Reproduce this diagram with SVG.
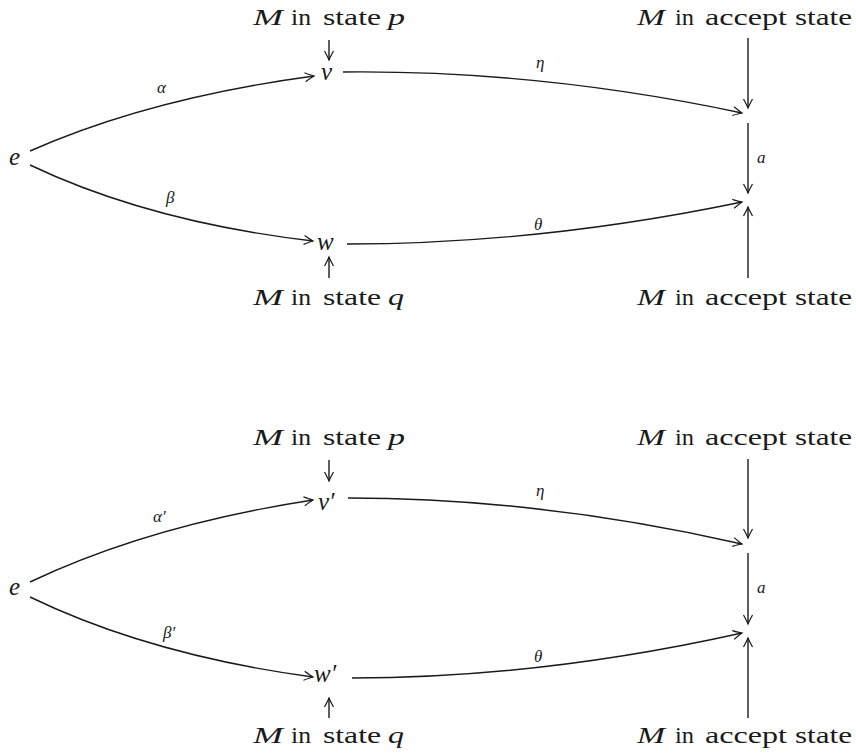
<svg xmlns="http://www.w3.org/2000/svg" width="856" height="755" viewBox="0 0 856 755">
<style>
text{font-family:'Liberation Serif','DejaVu Serif',serif;fill:#1a1a1a}
.lbl{font-size:24px}
.it{font-style:italic}
.sm{font-size:17px;font-style:italic}
.node{font-size:25px;font-style:italic}
.edge{fill:none;stroke:#1a1a1a;stroke-width:1.4;marker-end:url(#ah)}
</style>
<defs>
<marker id="ah" markerUnits="userSpaceOnUse" markerWidth="14" markerHeight="12" viewBox="-10 -6 12 12" refX="0" refY="0" orient="auto">
<path d="M-9,-4.5 Q-3,-1.2 0,0 Q-3,1.2 -9,4.5" fill="none" stroke="#1a1a1a" stroke-width="1.2"/>
</marker>
</defs>
<g id="top">
<g id="p1"><text class="lbl" y="25"><tspan class="it" x="253" textLength="30" lengthAdjust="spacingAndGlyphs">M</tspan><tspan x="291" textLength="20" lengthAdjust="spacingAndGlyphs">in</tspan><tspan x="323" textLength="58" lengthAdjust="spacingAndGlyphs">state</tspan><tspan class="it" x="388" textLength="17" lengthAdjust="spacingAndGlyphs">p</tspan></text></g>
<g id="q1"><text class="lbl" y="305"><tspan class="it" x="253" textLength="30" lengthAdjust="spacingAndGlyphs">M</tspan><tspan x="291" textLength="20" lengthAdjust="spacingAndGlyphs">in</tspan><tspan x="323" textLength="58" lengthAdjust="spacingAndGlyphs">state</tspan><tspan class="it" x="388" textLength="16" lengthAdjust="spacingAndGlyphs">q</tspan></text></g>
<g id="acc1a"><text class="lbl" y="25"><tspan class="it" x="637" textLength="28" lengthAdjust="spacingAndGlyphs">M</tspan><tspan x="675" textLength="19" lengthAdjust="spacingAndGlyphs">in</tspan><tspan x="705" textLength="82" lengthAdjust="spacingAndGlyphs">accept</tspan><tspan x="795" textLength="57" lengthAdjust="spacingAndGlyphs">state</tspan></text></g>
<g id="acc1b"><text class="lbl" y="305"><tspan class="it" x="637" textLength="28" lengthAdjust="spacingAndGlyphs">M</tspan><tspan x="675" textLength="19" lengthAdjust="spacingAndGlyphs">in</tspan><tspan x="705" textLength="82" lengthAdjust="spacingAndGlyphs">accept</tspan><tspan x="795" textLength="57" lengthAdjust="spacingAndGlyphs">state</tspan></text></g>
<g id="e1"><text class="node" x="9" y="165">e</text></g>
<g id="v1"><text class="node" x="321" y="80">v</text></g>
<g id="w1"><text class="node" x="317" y="250">w</text></g>
</g>
<g id="bottom">
<g id="p2"><text class="lbl" y="445"><tspan class="it" x="253" textLength="30" lengthAdjust="spacingAndGlyphs">M</tspan><tspan x="291" textLength="20" lengthAdjust="spacingAndGlyphs">in</tspan><tspan x="323" textLength="58" lengthAdjust="spacingAndGlyphs">state</tspan><tspan class="it" x="388" textLength="17" lengthAdjust="spacingAndGlyphs">p</tspan></text></g>
<g id="q2"><text class="lbl" y="743"><tspan class="it" x="253" textLength="30" lengthAdjust="spacingAndGlyphs">M</tspan><tspan x="291" textLength="20" lengthAdjust="spacingAndGlyphs">in</tspan><tspan x="323" textLength="58" lengthAdjust="spacingAndGlyphs">state</tspan><tspan class="it" x="388" textLength="16" lengthAdjust="spacingAndGlyphs">q</tspan></text></g>
<g id="acc2a"><text class="lbl" y="445"><tspan class="it" x="637" textLength="28" lengthAdjust="spacingAndGlyphs">M</tspan><tspan x="675" textLength="19" lengthAdjust="spacingAndGlyphs">in</tspan><tspan x="705" textLength="82" lengthAdjust="spacingAndGlyphs">accept</tspan><tspan x="795" textLength="57" lengthAdjust="spacingAndGlyphs">state</tspan></text></g>
<g id="acc2b"><text class="lbl" y="743"><tspan class="it" x="637" textLength="28" lengthAdjust="spacingAndGlyphs">M</tspan><tspan x="675" textLength="19" lengthAdjust="spacingAndGlyphs">in</tspan><tspan x="705" textLength="82" lengthAdjust="spacingAndGlyphs">accept</tspan><tspan x="795" textLength="57" lengthAdjust="spacingAndGlyphs">state</tspan></text></g>
<g id="e2"><text class="node" x="9" y="595">e</text></g>
<g id="v2"><text class="node" x="318" y="510">v′</text></g>
<g id="w2"><text class="node" x="314" y="682">w′</text></g>
</g>
<g id="connectors">
<path class="edge" d="M30,151 Q150,98 314,76"/>
<path class="edge" d="M30,165 Q150,222 313,241"/>
<path class="edge" d="M343,72 Q540,70 742,113"/>
<path class="edge" d="M347,244 Q540,244 742,202"/>
<path class="edge" d="M329,40 L329,60"/>
<path class="edge" d="M329,278 L329,257"/>
<path class="edge" d="M748,38 L748,108"/>
<path class="edge" d="M748,123 L748,193"/>
<path class="edge" d="M748,278 L748,207"/>
<path class="edge" d="M30,582 Q150,525 313,500"/>
<path class="edge" d="M30,597 Q150,655 313,677"/>
<path class="edge" d="M348,498 Q540,498 742,544"/>
<path class="edge" d="M352,678 Q540,678 742,633"/>
<path class="edge" d="M329,460 L329,481"/>
<path class="edge" d="M329,718 L329,698"/>
<path class="edge" d="M748,459 L748,538"/>
<path class="edge" d="M748,553 L748,624"/>
<path class="edge" d="M748,718 L748,638"/>
<text class="sm" x="157" y="93">α</text>
<text class="sm" x="166" y="203">β</text>
<text class="sm" x="536" y="68">η</text>
<text class="sm" x="534" y="230">θ</text>
<text class="sm" x="757" y="163">a</text>
<text class="sm" x="153" y="522">α′</text>
<text class="sm" x="163" y="638">β′</text>
<text class="sm" x="536" y="496">η</text>
<text class="sm" x="534" y="662">θ</text>
<text class="sm" x="757" y="593">a</text>
</g>
</svg>
